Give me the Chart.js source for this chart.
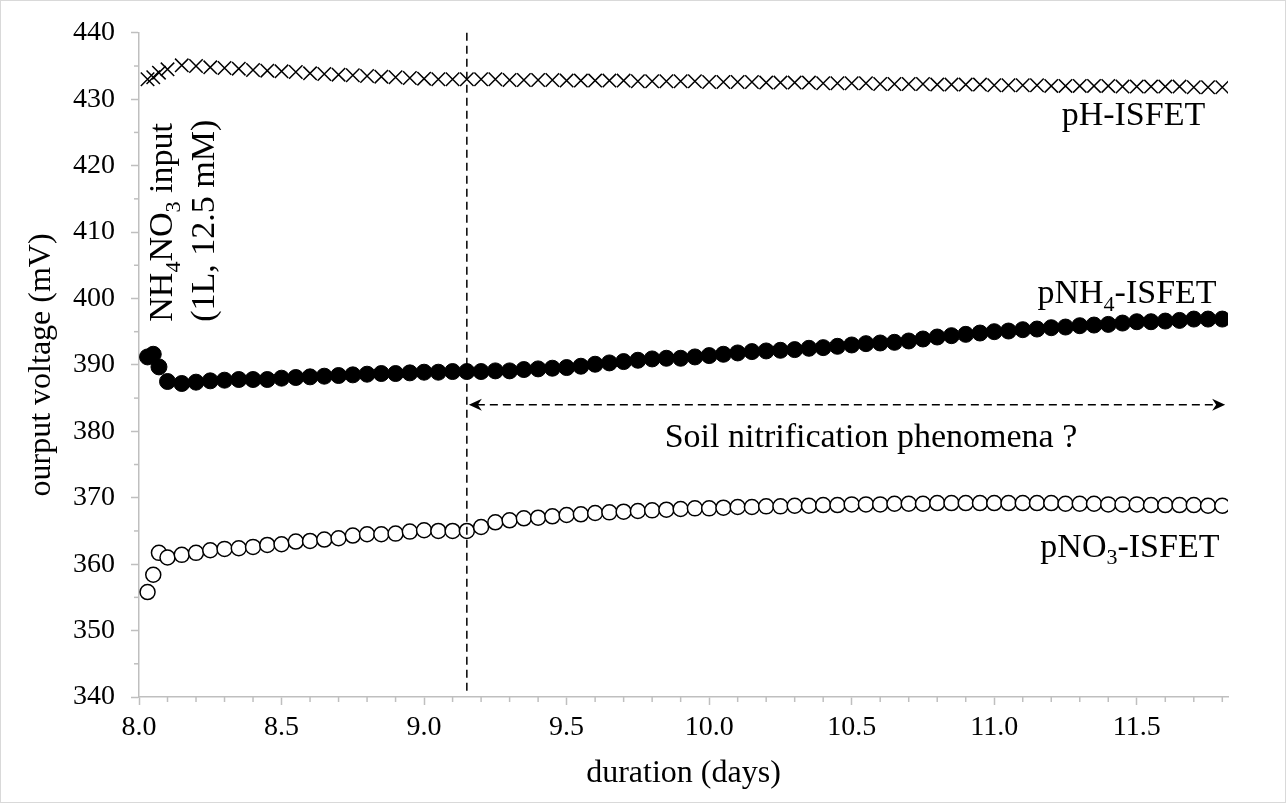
<!DOCTYPE html>
<html>
<head>
<meta charset="utf-8">
<title>ISFET output voltage</title>
<script src="https://cdn.jsdelivr.net/npm/chart.js@4.4.1/dist/chart.umd.min.js"></script>
<style>
  html, body { margin: 0; padding: 0; background: #fff; }
  #wrap { width: 1286px; height: 803px; position: relative; }
</style>
</head>
<body>
<div id="wrap"><canvas id="myChart"></canvas></div>
<script>
// sampling times (days)
const days = [
  8.03, 8.05, 8.07, 8.10, 8.15, 8.20, 8.25, 8.30, 8.35, 8.40, 8.45, 8.50, 8.55, 8.60, 8.65, 8.70, 8.75, 8.80, 8.85, 8.90, 8.95, 9.00, 9.05, 9.10, 9.15,
  9.20, 9.25, 9.30, 9.35, 9.40, 9.45, 9.50, 9.55, 9.60, 9.65, 9.70, 9.75, 9.80, 9.85, 9.90, 9.95,
  10.00, 10.05, 10.10, 10.15, 10.20, 10.25, 10.30, 10.35, 10.40, 10.45, 10.50, 10.55, 10.60, 10.65, 10.70, 10.75, 10.80, 10.85, 10.90, 10.95,
  11.00, 11.05, 11.10, 11.15, 11.20, 11.25, 11.30, 11.35, 11.40, 11.45, 11.50, 11.55, 11.60, 11.65, 11.70, 11.75, 11.80
];

// output voltages (mV)
const phIsfet = [
  433.0, 433.3, 434.0, 434.5, 435.1, 435.0, 434.8, 434.7, 434.6, 434.4, 434.3, 434.2, 434.1, 433.9, 433.8, 433.7, 433.6, 433.5, 433.4, 433.3, 433.2, 433.1, 433.0, 433.0, 433.0,
  433.0, 433.0, 432.9, 432.9, 432.9, 432.9, 432.8, 432.8, 432.8, 432.8, 432.8, 432.7, 432.7, 432.7, 432.7, 432.7,
  432.6, 432.6, 432.6, 432.6, 432.5, 432.5, 432.5, 432.5, 432.4, 432.4, 432.4, 432.4, 432.3, 432.3, 432.3, 432.3, 432.2, 432.2, 432.2, 432.2,
  432.1, 432.1, 432.1, 432.1, 432.0, 432.0, 432.0, 432.0, 432.0, 431.9, 431.9, 431.9, 431.9, 431.9, 431.8, 431.8, 431.8
];
const pnh4Isfet = [
  391.2, 391.6, 389.7, 387.5, 387.2, 387.4, 387.6, 387.7, 387.8, 387.8, 387.8, 388.0, 388.1, 388.2, 388.3, 388.4, 388.5, 388.6, 388.7, 388.7, 388.8, 388.9, 388.9, 389.0, 389.0,
  389.0, 389.1, 389.1, 389.3, 389.4, 389.5, 389.6, 389.8, 390.1, 390.3, 390.5, 390.7, 390.9, 391.0, 391.0, 391.2,
  391.4, 391.6, 391.8, 392.0, 392.1, 392.2, 392.3, 392.5, 392.6, 392.8, 393.0, 393.2, 393.3, 393.4, 393.6, 393.9, 394.2, 394.4, 394.6, 394.8,
  395.0, 395.1, 395.3, 395.4, 395.6, 395.7, 395.9, 396.0, 396.1, 396.3, 396.5, 396.5, 396.6, 396.7, 396.9, 396.9, 396.9
];
const pno3Isfet = [
  355.8, 358.4, 361.7, 361.0, 361.4, 361.7, 362.1, 362.3, 362.4, 362.6, 362.9, 363.0, 363.4, 363.5, 363.7, 363.9, 364.3, 364.5, 364.5, 364.6, 364.9, 365.1, 365.0, 365.0, 365.0,
  365.6, 366.3, 366.6, 366.9, 367.0, 367.2, 367.4, 367.5, 367.7, 367.8, 367.9, 368.0, 368.1, 368.2, 368.3, 368.4,
  368.4, 368.5, 368.6, 368.6, 368.7, 368.7, 368.8, 368.8, 368.9, 368.9, 369.0, 369.0, 369.0, 369.1, 369.1, 369.1, 369.2, 369.2, 369.2, 369.2,
  369.2, 369.2, 369.2, 369.2, 369.2, 369.1, 369.1, 369.1, 369.0, 369.0, 369.0, 368.9, 368.9, 368.9, 368.9, 368.8, 368.8
];

const FONT = "'Liberation Serif', 'Times New Roman', serif";
const AXIS_GREY = '#bfbfbf';

function pairs(ys) {
    return days.map((d, i) => ({ x: d, y: ys[i] }));
}

// draw text made of normal and subscript parts
function drawRich(ctx, parts, x, y, size, align) {
    const subSize = Math.round(size * 0.65);
    let total = 0;
    parts.forEach(p => {
        ctx.font = (p.sub ? subSize : size) + 'px ' + FONT;
        p.w = ctx.measureText(p.t).width;
        total += p.w;
    });
    let cx = align === 'right' ? x - total : (align === 'center' ? x - total / 2 : x);
    ctx.textAlign = 'left';
    ctx.textBaseline = 'alphabetic';
    parts.forEach(p => {
        ctx.font = (p.sub ? subSize : size) + 'px ' + FONT;
        ctx.fillText(p.t, cx, p.sub ? y + size * 0.22 : y);
        cx += p.w;
    });
}

const annotationPlugin = {
    id: 'annotations',
    afterDraw(chart) {
        const { ctx, chartArea } = chart;
        const xs = chart.scales.x;
        const ys = chart.scales.y;
        ctx.save();

        // outer frame
        ctx.strokeStyle = '#d9d9d9';
        ctx.lineWidth = 1;
        ctx.strokeRect(0.5, 0.5, chart.width - 1, chart.height - 1);

        // minor ticks
        ctx.strokeStyle = AXIS_GREY;
        ctx.lineWidth = 1.5;
        for (let i = 1; i <= 38; i++) {
            if (i % 5 === 0) continue;
            const px = xs.getPixelForValue(8 + i * 0.1);
            ctx.beginPath();
            ctx.moveTo(px, chartArea.bottom);
            ctx.lineTo(px, chartArea.bottom + 5);
            ctx.stroke();
        }
        for (let v = 345; v < 440; v += 10) {
            const py = ys.getPixelForValue(v);
            ctx.beginPath();
            ctx.moveTo(chartArea.left - 5, py);
            ctx.lineTo(chartArea.left, py);
            ctx.stroke();
        }

        // input marker line
        ctx.strokeStyle = '#000';
        ctx.fillStyle = '#000';
        ctx.lineWidth = 1.5;
        ctx.setLineDash([8, 5]);
        const vx = xs.getPixelForValue(9.15);
        ctx.beginPath();
        ctx.moveTo(vx, chartArea.top);
        ctx.lineTo(vx, chartArea.bottom - 5);
        ctx.stroke();

        // double arrow
        const ay = ys.getPixelForValue(384);
        const ax1 = vx + 2;
        const ax2 = xs.getPixelForValue(11.81);
        ctx.beginPath();
        ctx.moveTo(ax1 + 8, ay);
        ctx.lineTo(ax2 - 8, ay);
        ctx.stroke();
        ctx.setLineDash([]);
        [[ax1, 1], [ax2, -1]].forEach(([tip, dir]) => {
            ctx.beginPath();
            ctx.moveTo(tip, ay);
            ctx.lineTo(tip + dir * 13, ay - 6);
            ctx.lineTo(tip + dir * 9, ay);
            ctx.lineTo(tip + dir * 13, ay + 6);
            ctx.closePath();
            ctx.fill();
        });

        // series labels
        const size = 34;
        drawRich(ctx, [{ t: 'pH-ISFET' }], xs.getPixelForValue(11.74), ys.getPixelForValue(426.1), size, 'right');
        drawRich(ctx, [{ t: 'pNH' }, { t: '4', sub: true }, { t: '-ISFET' }],
            xs.getPixelForValue(11.78), ys.getPixelForValue(399.3), size, 'right');
        drawRich(ctx, [{ t: 'pNO' }, { t: '3', sub: true }, { t: '-ISFET' }],
            xs.getPixelForValue(11.79), ys.getPixelForValue(361.1), size, 'right');
        drawRich(ctx, [{ t: 'Soil nitrification phenomena ?' }],
            xs.getPixelForValue(9.844), ys.getPixelForValue(377.6), size, 'left');

        // rotated input note
        const rotLines = [
            { parts: [{ t: 'NH' }, { t: '4', sub: true }, { t: 'NO' }, { t: '3', sub: true }, { t: ' input' }], x: 8.116 },
            { parts: [{ t: '(1L, 12.5 mM)' }], x: 8.263 }
        ];
        rotLines.forEach(l => {
            ctx.save();
            ctx.translate(xs.getPixelForValue(l.x), ys.getPixelForValue(396.5));
            ctx.rotate(-Math.PI / 2);
            drawRich(ctx, l.parts, 0, 0, size, 'left');
            ctx.restore();
        });

        ctx.restore();
    }
};

function initChart() {
    const ctx = document.getElementById('myChart');
    if (typeof Chart === 'undefined') {
        console.error('Chart.js is not loaded');
        return;
    }

    const config = {
        type: 'scatter',
        data: {
            datasets: [
                {
                    label: 'pH-ISFET',
                    data: pairs(phIsfet),
                    pointStyle: 'crossRot',
                    pointRadius: 9.5,
                    borderColor: '#000',
                    backgroundColor: '#000',
                    borderWidth: 1.5
                },
                {
                    label: 'pNH4-ISFET',
                    data: pairs(pnh4Isfet),
                    pointStyle: 'circle',
                    pointRadius: 8,
                    borderColor: '#000',
                    backgroundColor: '#000',
                    borderWidth: 1
                },
                {
                    label: 'pNO3-ISFET',
                    data: pairs(pno3Isfet),
                    pointStyle: 'circle',
                    pointRadius: 7.5,
                    borderColor: '#000',
                    backgroundColor: '#fff',
                    borderWidth: 1.5
                }
            ]
        },
        options: {
            responsive: true,
            maintainAspectRatio: false,
            animation: false,
            events: [],
            layout: {
                padding: { top: 30, right: 58, left: 0, bottom: 0 }
            },
            plugins: {
                legend: { display: false },
                tooltip: { enabled: false }
            },
            scales: {
                x: {
                    type: 'linear',
                    min: 8,
                    max: 11.82,
                    afterFit: s => { s.height = 106; },
                    border: { display: true, color: AXIS_GREY, width: 1.5 },
                    grid: {
                        display: true,
                        drawOnChartArea: false,
                        drawTicks: true,
                        tickLength: 8,
                        tickColor: AXIS_GREY,
                        tickWidth: 1.5
                    },
                    ticks: {
                        stepSize: 0.5,
                        includeBounds: false,
                        autoSkip: false,
                        maxRotation: 0,
                        padding: 6,
                        color: '#000',
                        font: { size: 28, family: FONT },
                        callback: v => v.toFixed(1)
                    },
                    title: {
                        display: true,
                        text: 'duration (days)',
                        color: '#000',
                        font: { size: 32, family: FONT },
                        padding: { top: 0, bottom: 10 }
                    }
                },
                y: {
                    type: 'linear',
                    min: 340,
                    max: 440,
                    afterFit: s => { s.width = 139; },
                    border: { display: true, color: AXIS_GREY, width: 1.5 },
                    grid: {
                        display: true,
                        drawOnChartArea: false,
                        drawTicks: true,
                        tickLength: 8,
                        tickColor: AXIS_GREY,
                        tickWidth: 1.5
                    },
                    ticks: {
                        stepSize: 10,
                        padding: 16,
                        color: '#000',
                        font: { size: 28, family: FONT }
                    },
                    title: {
                        display: true,
                        text: 'ourput voltage (mV)',
                        color: '#000',
                        font: { size: 32, family: FONT },
                        padding: { top: 22, bottom: 0 }
                    }
                }
            }
        },
        plugins: [annotationPlugin]
    };

    window.isfetChart = new Chart(ctx, config);
}

document.addEventListener('DOMContentLoaded', initChart);
</script>
</body>
</html>
